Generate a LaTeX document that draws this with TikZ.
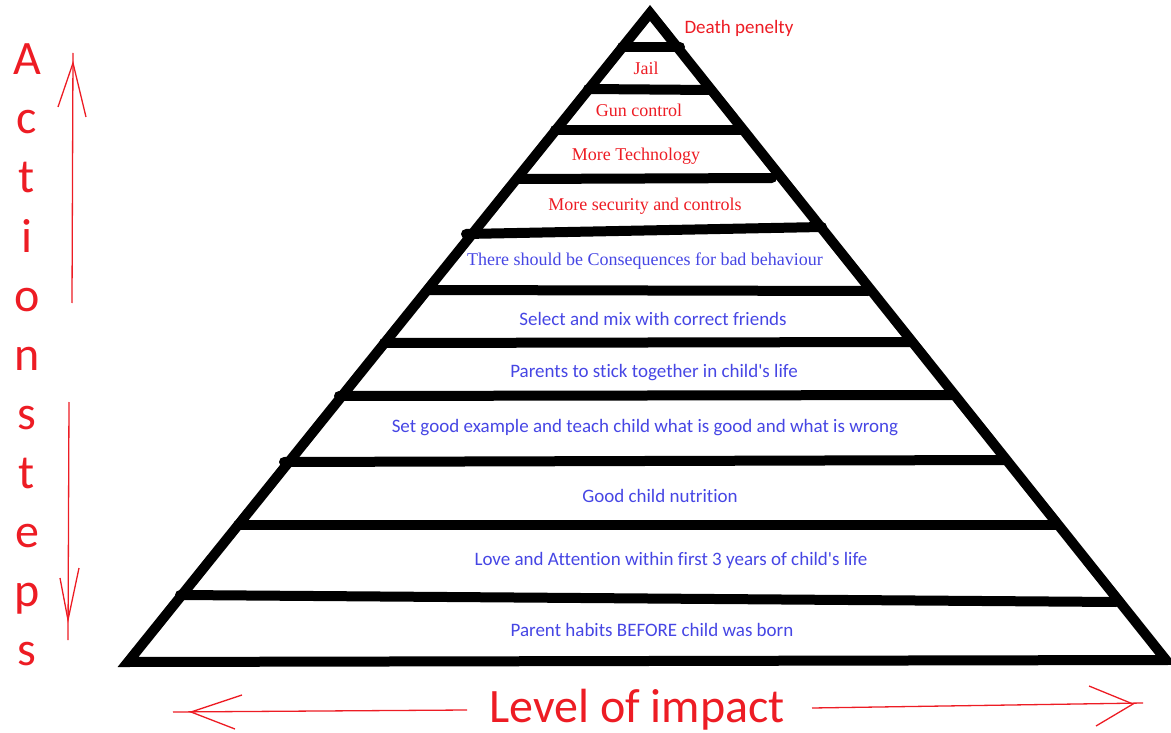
\documentclass[tikz,border=0pt]{standalone}
\usepackage{fontspec}
\setmainfont{Liberation Serif}[Ligatures=NoCommon]
\newfontfamily\calibri{Carlito}[Ligatures=NoCommon]
\definecolor{pred}{RGB}{237,28,36}
\definecolor{pblue}{RGB}{70,70,228}
\tikzset{
  tier/.style={line width=10pt, line cap=round},
  redser/.style={text=pred, font=\fontsize{18}{21}\selectfont, inner sep=0pt},
  blueser/.style={text=pblue, font=\fontsize{18}{21}\selectfont, inner sep=0pt},
  bluesans/.style={text=pblue, font=\calibri\fontsize{19}{22}\selectfont, inner sep=0pt},
  redsans/.style={text=pred, font=\calibri\fontsize{19}{22}\selectfont, inner sep=0pt},
  bigred/.style={text=pred, font=\calibri\fontsize{48}{52}\selectfont, inner sep=0pt},
  hand/.style={draw=pred, line width=1.3pt},
}
\begin{document}
\begin{tikzpicture}[x=1pt,y=-1pt]
\useasboundingbox (0,0) rectangle (1171,733);
% pyramid outline
\coordinate (apex) at (650,13);
\coordinate (bl) at (128,662);
\coordinate (br) at (1166,660);
\draw[line width=10pt, line join=miter] (apex) -- (bl) -- (br) -- cycle;
% tiers
\draw[tier] (622,47) -- (680,47);
\draw[tier] (588,89) -- (711,90);
\draw[tier] (555,130) -- (741,130);
\draw[tier] (518,179) -- (772,178);
\draw[tier] (466,234) -- (822,227);
\draw[tier] (428,290) -- (868,291);
\draw[tier] (384,343) -- (911,342);
\draw[tier] (339,396) -- (954,395);
\draw[tier] (284,462) -- (1004,460);
\draw[tier] (238,525) -- (1056,525);
\draw[tier] (180,595) -- (1116,602);
% labels
\node[redsans] (t1) at (739,28) {Death penelty};
\node[redser] (t2) at (646,68) {Jail};
\node[redser] (t3) at (639,110) {Gun control};
\node[redser] (t4) at (636,156) {More Technology};
\node[redser] (t5) at (645,206) {More security and controls};
\node[blueser] (t6) at (645,261) {There should be Consequences for bad behaviour};
\node[bluesans] (t7) at (653,319) {Select and mix with correct friends};
\node[bluesans] (t8) at (654,373) {Parents to stick together in child's life};
\node[bluesans] (t9) at (645,428) {Set good example and teach child what is good and what is wrong};
\node[bluesans] (t10) at (660,496) {Good child nutrition};
\node[bluesans] (t11) at (671,560) {Love and Attention within first 3 years of child's life};
\node[bluesans] (t12) at (652,630) {Parent habits BEFORE child was born};
% vertical axis label
\foreach \ch [count=\i from 0] in {A,c,t,i,o,n,s,t,e,p,s}
  \node[bigred, anchor=base] (v\i) at (27,75+59*\i) {\ch};
% horizontal axis label
\node[bigred] (lvl) at (637,710) {Level of impact};
% up arrow
\coordinate (uA) at (72,303);
\coordinate (uB) at (73,53);
\coordinate (uT) at (73,63);
\draw[hand] (uA) -- (uB);
\draw[hand] (58,107) -- (uT) -- (86,117);
% down arrow
\coordinate (dA) at (69,402);
\coordinate (dB) at (68,640);
\coordinate (dT) at (68,620);
\draw[hand] (dA) -- (dB);
\draw[hand] (60,578) -- (dT) -- (79,568);
% left arrow
\coordinate (lA) at (467,710);
\coordinate (lB) at (173,712);
\coordinate (lT) at (191,712);
\draw[hand] (lA) -- (lB);
\draw[hand] (242,695) -- (lT) -- (235,729);
% right arrow
\coordinate (rA) at (812,708);
\coordinate (rB) at (1143,703);
\coordinate (rT) at (1133,704);
\draw[hand] (rA) -- (rB);
\draw[hand] (1089,686) -- (rT) -- (1096,726);
\end{tikzpicture}
\end{document}
